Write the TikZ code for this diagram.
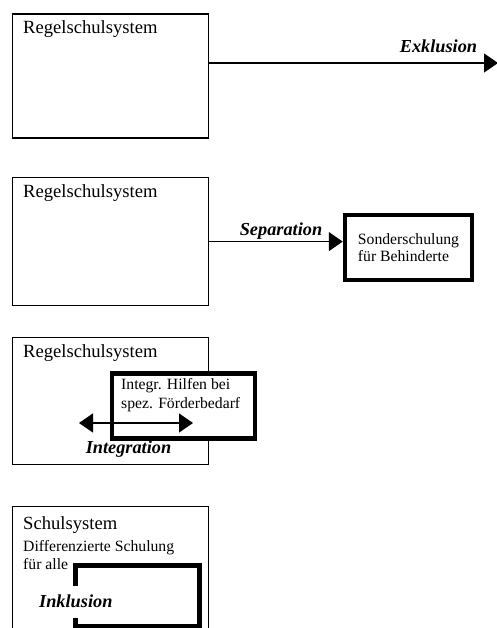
\documentclass[tikz,border=0pt]{standalone}
\usepackage{fontspec}
\setmainfont{Liberation Serif}
\usepackage{tikz}
\usetikzlibrary{arrows.meta}
\tikzstyle{schulbox} = [rectangle, draw=black, line width=1.2pt, inner sep=0pt, anchor=north west]
\tikzstyle{dickbox} = [rectangle, draw=black, fill=white, line width=4.5pt, inner sep=0pt]
\tikzstyle{arrow} = [line width=1.2pt, -{Triangle[length=14pt,width=19pt]}]
\tikzstyle{darrow} = [line width=1.2pt, {Triangle[length=14pt,width=19pt]}-{Triangle[length=14pt,width=19pt]}]
\tikzstyle{titel} = [font=\fontsize{18.6}{22}\selectfont, inner sep=0pt, anchor=base west]
\tikzstyle{klein} = [font=\fontsize{15.7}{17}\selectfont, inner sep=0pt, anchor=base west]
\tikzstyle{begriff} = [font=\fontsize{18.3}{22}\selectfont\bfseries\itshape, inner sep=0pt, anchor=base]

\begin{document}
\begin{tikzpicture}[x=1pt, y=-1pt]
\useasboundingbox (0,0) rectangle (497,628);
% Exklusion
\node (regel1) [schulbox, minimum width=196pt, minimum height=124pt] at (11.5,13.5) {};
\node (regel1txt) [titel] at (23,34) {Regelschulsystem};
\coordinate (exklende) at (498,63);
\draw [arrow] (regel1.east |- exklende) -- (exklende);
\node (exkl) [begriff] at (438.5,53) {Exklusion};
% Separation
\node (regel2) [schulbox, minimum width=196pt, minimum height=128pt] at (11.5,177) {};
\node (regel2txt) [titel] at (23,197) {Regelschulsystem};
\node (sonder) [dickbox, minimum width=127pt, minimum height=65pt, align=left,
  font=\fontsize{15.7}{16.7}\selectfont] at (408.5,247.5) {Sonderschulung\\für Behinderte};
\draw [arrow] (regel2.east) -- (regel2.east -| sonder.west);
\node (sep) [begriff] at (281,235) {Separation};
% Integration
\node (regel3) [schulbox, minimum width=196pt, minimum height=127pt] at (11.5,337) {};
\node (regel3txt) [titel] at (23,357) {Regelschulsystem};
\node (hilfen) [dickbox, anchor=north west, minimum width=143pt, minimum height=65pt] at (109.5,371) {};
\node (hilfen1) [klein] at (121,389) {Integr. Hilfen bei};
\node (hilfen2) [klein] at (121,408) {spez. Förderbedarf};
\coordinate (intlinks) at (79,423);
\coordinate (intrechts) at (193,423);
\draw [darrow] (intlinks) -- (intrechts);
\node (integ) [begriff] at (128.5,453) {Integration};
% Inklusion
\node (schule) [schulbox, minimum width=196pt, minimum height=140pt] at (11.5,505.5) {};
\node (schuletxt) [titel] at (23,529) {Schulsystem};
\node (diff1) [klein] at (23,551) {Differenzierte Schulung};
\node (diff2) [klein] at (23,569) {für alle};
\draw [line width=4.5pt] (75.5,586) -- (75.5,565.5) -- (199.5,565.5) -- (199.5,626) -- (75.5,626) -- (75.5,618);
\node (inkl) [begriff, anchor=base west] at (39,607) {Inklusion};
\end{tikzpicture}
\end{document}
